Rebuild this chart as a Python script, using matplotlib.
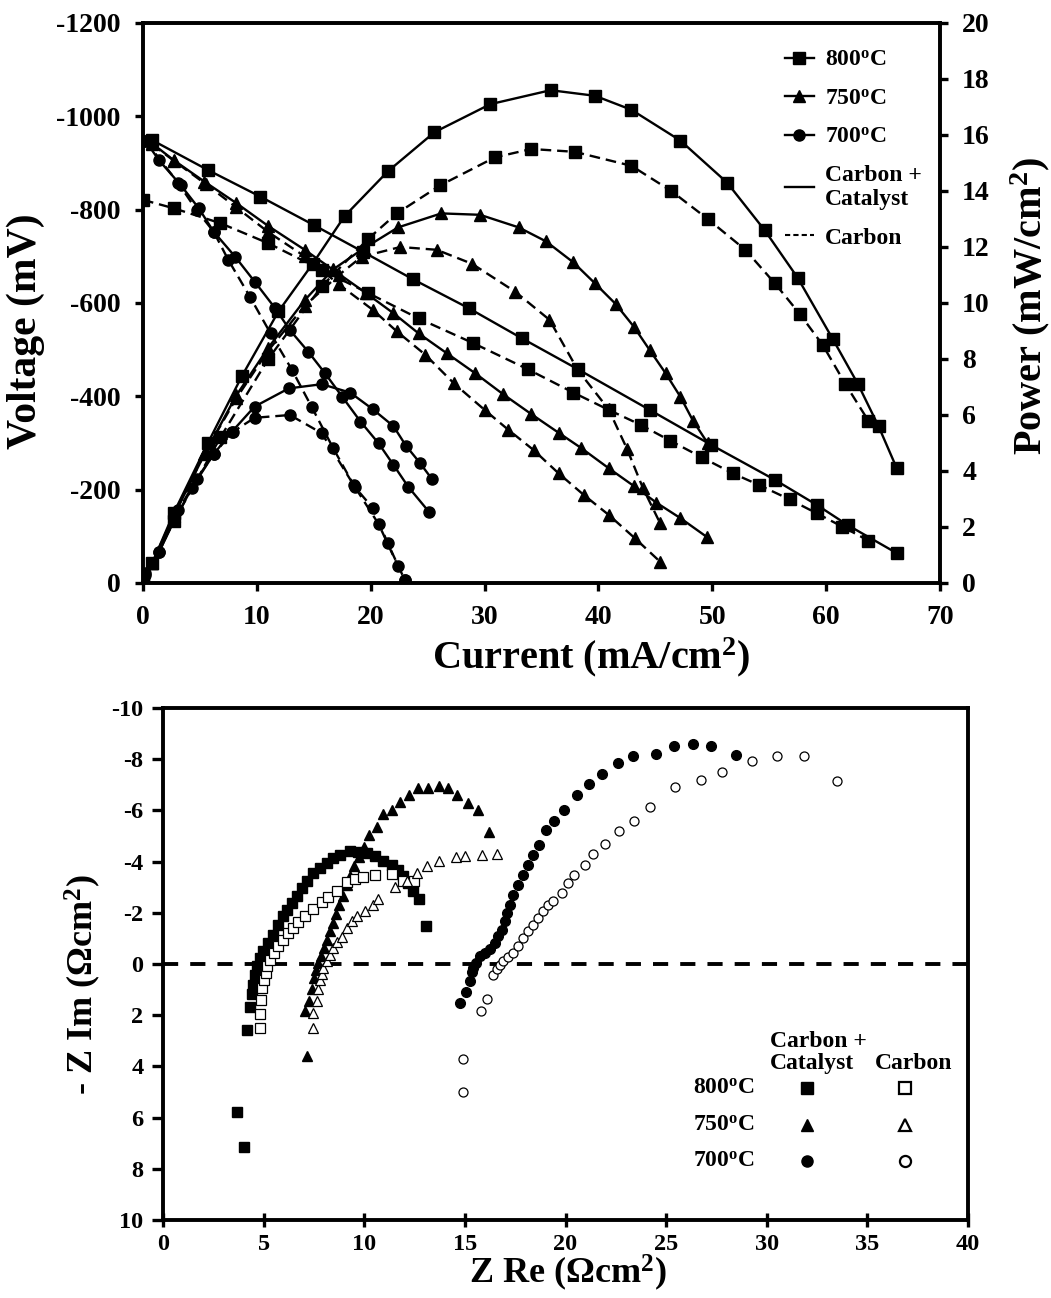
import matplotlib
matplotlib.use('Agg')
import matplotlib.pyplot as plt
from matplotlib.lines import Line2D

plt.rcParams.update({
    'font.family': ['Liberation Serif', 'DejaVu Serif'],
    'font.weight': 'bold',
    'axes.labelweight': 'bold',
    'mathtext.fontset': 'custom',
    'mathtext.rm': 'Liberation Serif:bold',
    'mathtext.bf': 'Liberation Serif:bold',
    'mathtext.it': 'Liberation Serif:bold:italic',
    'axes.unicode_minus': False,
})

# ---- polarisation data (current mA/cm2, voltage mV, power mW/cm2) ----
i800_cc_v = [0.8, 5.7, 10.3, 15.0, 19.3, 23.7, 28.6, 33.3, 38.2, 44.5, 49.9, 55.5, 59.2, 61.9, 66.2]
v800_cc = [-949, -885, -828, -767, -710, -651, -589, -524, -458, -371, -296, -221, -167, -124, -64]
i800_cc_p = [0, 0.8, 2.7, 5.7, 8.7, 11.9, 14.9, 17.7, 21.5, 25.6, 30.5, 35.8, 39.7, 42.9, 47.2,
             51.3, 54.6, 57.5, 60.6, 62.8, 64.6, 66.2]
p800_cc = [0, 0.7, 2.5, 5.0, 7.4, 9.7, 11.4, 13.1, 14.7, 16.1, 17.1, 17.6, 17.4, 16.9, 15.8,
           14.3, 12.6, 10.9, 8.7, 7.1, 5.6, 4.1]

i800_c_v = [0, 2.7, 6.8, 11.0, 15.7, 19.8, 24.2, 29.0, 33.8, 37.8, 40.9, 43.7, 46.3, 49.1,
            51.8, 54.1, 56.8, 59.2, 61.4, 63.7]
v800_c = [-821, -803, -771, -728, -671, -621, -567, -514, -458, -408, -371, -339, -305, -269,
          -235, -210, -179, -149, -121, -91]
i800_c_p = [0, 2.7, 6.8, 11.0, 15.7, 19.8, 22.3, 26.1, 30.9, 34.1, 37.9, 42.9, 46.4, 49.6,
            52.9, 55.5, 57.7, 59.7, 61.7, 63.7]
p800_c = [0, 2.2, 5.2, 8.0, 10.6, 12.3, 13.2, 14.2, 15.2, 15.5, 15.4, 14.9, 14.0, 13.0,
          11.9, 10.7, 9.6, 8.5, 7.1, 5.8]

i750_cc_v = [0.8, 2.7, 5.4, 8.2, 11.0, 14.2, 16.7, 19.6, 22.0, 24.2, 26.7, 29.2, 31.6, 34.1,
             36.5, 38.5, 40.9, 43.1, 45.1, 47.2, 49.5]
v750_cc = [-942, -906, -860, -814, -765, -714, -671, -621, -578, -535, -492, -449, -405, -362,
           -322, -289, -246, -208, -172, -139, -99]
i750_cc_p = [0, 0.8, 2.7, 5.4, 8.2, 11.0, 14.2, 16.7, 19.2, 22.4, 26.2, 29.6, 33.0, 35.4,
             37.8, 39.7, 41.5, 43.1, 44.5, 45.9, 47.2, 48.3, 49.6]
p750_cc = [0, 0.7, 2.4, 4.6, 6.7, 8.4, 10.1, 11.2, 11.9, 12.7, 13.2, 13.15, 12.7, 12.2,
           11.45, 10.7, 9.97, 9.16, 8.32, 7.49, 6.65, 5.8, 4.99]

i750_c_v = [0.8, 2.7, 5.5, 8.2, 11.0, 14.2, 17.2, 20.2, 22.3, 24.8, 27.3, 30.0, 32.1, 34.3,
            36.5, 38.7, 40.9, 43.2, 45.4]
v750_c = [-940, -905, -855, -805, -752, -700, -640, -585, -539, -489, -428, -371, -328, -285,
          -235, -189, -146, -96, -46]
i750_c_p = [0, 0.8, 2.7, 5.5, 8.2, 11.0, 14.2, 17.2, 19.2, 22.6, 25.8, 28.9, 32.7, 35.7,
            38.2, 40.9, 42.5, 43.9, 45.4]
p750_c = [0, 0.7, 2.4, 4.7, 6.6, 8.3, 9.9, 11.0, 11.65, 12.0, 11.9, 11.4, 10.4, 9.4,
          7.6, 6.2, 4.8, 3.4, 2.15]

i700_cc_v = [0.2, 1.4, 3.3, 4.9, 6.2, 8.1, 9.8, 11.6, 12.9, 14.5, 16.0, 17.5, 19.1, 20.7,
             22.0, 23.3, 25.1]
v700_cc = [-948, -906, -853, -803, -753, -699, -646, -589, -542, -496, -449, -399, -346, -299,
           -253, -206, -153]
i700_cc_p = [0.2, 1.4, 2.7, 4.3, 6.2, 7.8, 9.8, 12.8, 15.7, 18.2, 20.2, 22.0, 23.1, 24.3, 25.4]
p700_cc = [0.35, 1.1, 2.2, 3.4, 4.6, 5.4, 6.3, 6.95, 7.1, 6.8, 6.2, 5.6, 4.9, 4.3, 3.7]

i700_c_v = [0.2, 3.1, 4.7, 6.2, 7.5, 9.4, 11.2, 13.1, 14.8, 16.7, 18.6, 20.2, 21.5, 23.0]
v700_c = [-948, -857, -799, -753, -692, -613, -535, -456, -378, -289, -206, -160, -85, -6]
i700_c_p = [0.2, 1.4, 3.1, 4.7, 6.2, 7.9, 9.8, 12.9, 15.7, 18.5, 20.7, 22.4, 23.0]
p700_c = [0.3, 1.1, 2.6, 3.7, 4.6, 5.4, 5.9, 6.0, 5.35, 3.5, 2.1, 0.6, 0.1]

# ---- impedance data (Z Re, -Z Im in ohm cm2) ----
zre_800_cc = [3.69, 4.02, 4.19, 4.32, 4.41, 4.49, 4.57, 4.66, 4.82, 4.99, 5.23, 5.48, 5.73, 5.98,
              6.14, 6.39, 6.64, 6.89, 7.14, 7.47, 7.80, 8.13, 8.46, 8.80, 9.29, 9.71, 10.12,
              10.53, 10.95, 11.36, 11.69, 11.94, 12.19, 12.44, 12.74, 13.07]
zim_800_cc = [5.79, 7.16, 2.59, 1.69, 1.17, 0.81, 0.42, 0.09, -0.23, -0.49, -0.82, -1.15, -1.54,
              -1.86, -2.12, -2.38, -2.64, -2.97, -3.23, -3.55, -3.75, -3.95, -4.14, -4.27, -4.43,
              -4.38, -4.34, -4.21, -4.01, -3.88, -3.68, -3.42, -3.16, -2.84, -2.55, -1.47]
zre_800_c = [4.82, 4.82, 4.87, 4.94, 5.02, 5.10, 5.18, 5.32, 5.52, 5.73, 5.98, 6.23, 6.48, 6.72,
             7.06, 7.47, 7.89, 8.21, 8.66, 9.13, 9.54, 9.95, 10.53, 11.36, 11.94, 12.49]
zim_800_c = [2.50, 1.95, 1.39, 0.94, 0.61, 0.35, 0.09, -0.17, -0.43, -0.69, -0.95, -1.21, -1.41,
             -1.64, -1.86, -2.16, -2.42, -2.60, -2.84, -3.20, -3.32, -3.40, -3.49, -3.52, -3.23,
             -3.25]
zre_750_cc = [7.14, 7.06, 7.27, 7.42, 7.52, 7.60, 7.72, 7.84, 8.00, 8.13, 8.30, 8.43, 8.60, 8.76,
              8.93, 9.13, 9.29, 9.49, 9.76, 10.0, 10.24, 10.65, 10.95, 11.39, 11.78, 12.22, 12.69,
              13.15, 13.70, 14.18, 14.63, 15.14, 15.64, 16.20]
zim_750_cc = [3.61, 1.82, 1.43, 0.98, 0.55, 0.22, -0.04, -0.30, -0.62, -0.95, -1.28, -1.60, -1.95,
              -2.32, -2.64, -3.10, -3.43, -3.82, -4.17, -4.56, -5.05, -5.34, -5.86, -6.03, -6.33,
              -6.59, -6.88, -6.88, -6.94, -6.88, -6.61, -6.29, -6.03, -5.14]
zre_750_c = [7.47, 7.47, 7.64, 7.72, 7.80, 7.89, 7.97, 8.13, 8.30, 8.46, 8.66, 8.88, 9.13, 9.38,
             9.66, 10.04, 10.45, 10.67, 11.53, 12.11, 12.61, 13.10, 13.73, 14.56, 15.02, 15.84,
             16.58]
zim_750_c = [2.50, 1.91, 1.46, 0.98, 0.61, 0.39, 0.16, -0.10, -0.36, -0.62, -0.85, -1.04, -1.41,
             -1.69, -1.86, -2.08, -2.29, -2.54, -3.00, -3.25, -3.55, -3.82, -4.04, -4.17, -4.21,
             -4.25, -4.30]
zre_700_cc = [14.76, 15.06, 15.25, 15.34, 15.42, 15.55, 15.75, 16.0, 16.25, 16.50, 16.66, 16.83,
              17.0, 17.11, 17.24, 17.41, 17.63, 17.87, 18.15, 18.40, 18.70, 19.03, 19.43, 19.93,
              20.59, 21.18, 21.80, 22.59, 23.37, 24.50, 25.39, 26.35, 27.23, 28.47]
zim_700_cc = [1.52, 1.09, 0.68, 0.31, 0.16, -0.04, -0.30, -0.43, -0.60, -0.82, -1.08, -1.34,
              -1.67, -1.99, -2.32, -2.71, -3.10, -3.49, -3.88, -4.27, -4.66, -5.25, -5.57, -6.03,
              -6.61, -7.03, -7.42, -7.85, -8.11, -8.20, -8.50, -8.59, -8.50, -8.15]
zre_700_c = [14.92, 14.89, 15.79, 16.12, 16.41, 16.58, 16.75, 16.91, 17.16, 17.41, 17.66, 17.90,
             18.15, 18.40, 18.65, 18.90, 19.15, 19.39, 19.81, 20.14, 20.42, 20.97, 21.35, 21.96,
             22.67, 23.42, 24.20, 25.44, 26.72, 27.79, 29.25, 30.52, 31.87, 33.51]
zim_700_c = [5.01, 3.70, 1.85, 1.35, 0.42, 0.18, 0.03, -0.10, -0.26, -0.43, -0.69, -1.02, -1.28,
             -1.54, -1.80, -2.06, -2.32, -2.45, -2.77, -3.16, -3.49, -3.88, -4.30, -4.69, -5.21,
             -5.60, -6.12, -6.90, -7.20, -7.50, -7.94, -8.14, -8.14, -7.14]

temps = ['800', '750', '700']
deg = r'$^{\mathbf{o}}$C'

fig = plt.figure(figsize=(10.51, 12.98), dpi=100)

# ================= top panel =================
ax = fig.add_axes([143 / 1051, 1 - 583 / 1298, 797 / 1051, 560 / 1298])
axp = ax.twinx()

solid = dict(color='k', lw=1.7, mfc='k', mec='k')
dashed = dict(color='k', lw=1.7, mfc='k', mec='k', ls=(0, (4.5, 2.5)))

ax.plot(i800_cc_v, v800_cc, marker='s', ms=8, **solid)
ax.plot(i800_c_v, v800_c, marker='s', ms=8, **dashed)
ax.plot(i750_cc_v, v750_cc, marker='^', ms=8.5, **solid)
ax.plot(i750_c_v, v750_c, marker='^', ms=8.5, **dashed)
ax.plot(i700_cc_v, v700_cc, marker='o', ms=8, **solid)
ax.plot(i700_c_v, v700_c, marker='o', ms=8, **dashed)

axp.plot(i800_cc_p, p800_cc, marker='s', ms=8, **solid)
axp.plot(i800_c_p, p800_c, marker='s', ms=8, **dashed)
axp.plot(i750_cc_p, p750_cc, marker='^', ms=8.5, **solid)
axp.plot(i750_c_p, p750_c, marker='^', ms=8.5, **dashed)
axp.plot(i700_cc_p, p700_cc, marker='o', ms=8, **solid)
axp.plot(i700_c_p, p700_c, marker='o', ms=8, **dashed)

ax.set_xlim(0, 70)
ax.set_ylim(0, -1200)
axp.set_ylim(0, 20)
ax.set_xticks(range(0, 71, 10))
ax.set_yticks(range(0, -1201, -200))
axp.set_yticks(range(0, 21, 2))

for a in (ax, axp):
    for s in a.spines.values():
        s.set_linewidth(2.6)
ax.tick_params(axis='both', direction='out', length=6, width=2.4, labelsize=20, pad=10)
axp.tick_params(axis='y', direction='out', length=6, width=2.4, labelsize=20, pad=10)

ax.set_xlabel('Current (mA/cm$^{\\mathbf{2}}$)', fontsize=29)
ax.xaxis.set_label_coords(0.562, -0.094)
ax.set_ylabel('Voltage (mV)', fontsize=30)
ax.yaxis.set_label_coords(-0.123, 0.45)
axp.set_ylabel('Power (mW/cm$^{\\mathbf{2}}$)', fontsize=29)
axp.yaxis.set_label_coords(1.086, 0.495)

handles = [Line2D([], [], color='k', lw=1.7, marker='s', ms=8),
           Line2D([], [], color='k', lw=1.7, marker='^', ms=8.5),
           Line2D([], [], color='k', lw=1.7, marker='o', ms=8),
           Line2D([], [], color='k', lw=1.7),
           Line2D([], [], color='k', lw=1.5, ls=(0, (2.5, 1.5)))]
labels = [t + deg for t in temps] + ['Carbon +\nCatalyst', 'Carbon']
axp.legend(handles, labels, loc='upper left', bbox_to_anchor=(0.805, 0.953), frameon=False,
           fontsize=17, handlelength=1.25, handletextpad=0.45, labelspacing=0.72,
           borderpad=0, borderaxespad=0)

# ================= bottom panel =================
bx = fig.add_axes([163 / 1051, 1 - 1220 / 1298, 805 / 1051, 512 / 1298])

bx.axhline(0, color='k', lw=2.8, ls=(0, (3.9, 3.1)), zorder=1)

filled = dict(ls='none', color='k', mfc='k', mec='k', zorder=3)
hollow = dict(ls='none', color='k', mfc='white', mec='k', mew=0.9, zorder=4)

bx.plot(zre_800_cc, zim_800_cc, marker='s', ms=7, **filled)
bx.plot(zre_750_cc, zim_750_cc, marker='^', ms=7.5, **filled)
bx.plot(zre_700_cc, zim_700_cc, marker='o', ms=7, **filled)
bx.plot(zre_800_c, zim_800_c, marker='s', ms=7, **hollow)
bx.plot(zre_750_c, zim_750_c, marker='^', ms=7.5, **hollow)
bx.plot(zre_700_c, zim_700_c, marker='o', ms=6.5, **hollow)

bx.set_xlim(0, 40)
bx.set_ylim(10, -10)
bx.set_xticks(range(0, 41, 5))
bx.set_yticks(range(-10, 11, 2))
for s in bx.spines.values():
    s.set_linewidth(2.8)
bx.tick_params(axis='x', direction='inout', length=10, width=2.4, labelsize=17.5, pad=5)
bx.tick_params(axis='y', direction='out', length=8, width=2.4, labelsize=17.5, pad=6)

bx.set_xlabel('Z Re (\u03a9cm$^{\\mathbf{2}}$)', fontsize=26)
bx.xaxis.set_label_coords(0.503, -0.064)
bx.set_ylabel('- Z Im (\u03a9cm$^{\\mathbf{2}}$)', fontsize=26)
bx.yaxis.set_label_coords(-0.075, 0.46)

# legend block of the impedance panel
tr = bx.transAxes
bx.text(0.754, 0.327, 'Carbon +\nCatalyst', transform=tr, ha='left', va='center',
        fontsize=17, linespacing=1.1)
bx.text(0.8845, 0.3066, 'Carbon', transform=tr, ha='left', va='center', fontsize=17)
key_rows = [0.2578, 0.1855, 0.1152]
key_marks = ['s', '^', 'o']
for t, yk, mk in zip(temps, key_rows, key_marks):
    bx.text(0.7354, yk, t + deg, transform=tr, ha='right', va='center', fontsize=17)
    bx.plot([0.80], [yk], marker=mk, ms=8, ls='none', mfc='k', mec='k', transform=tr)
    bx.plot([0.9217], [yk], marker=mk, ms=8, ls='none', mfc='white', mec='k', mew=1.6,
            transform=tr)

fig.savefig('out.png', dpi=100)
